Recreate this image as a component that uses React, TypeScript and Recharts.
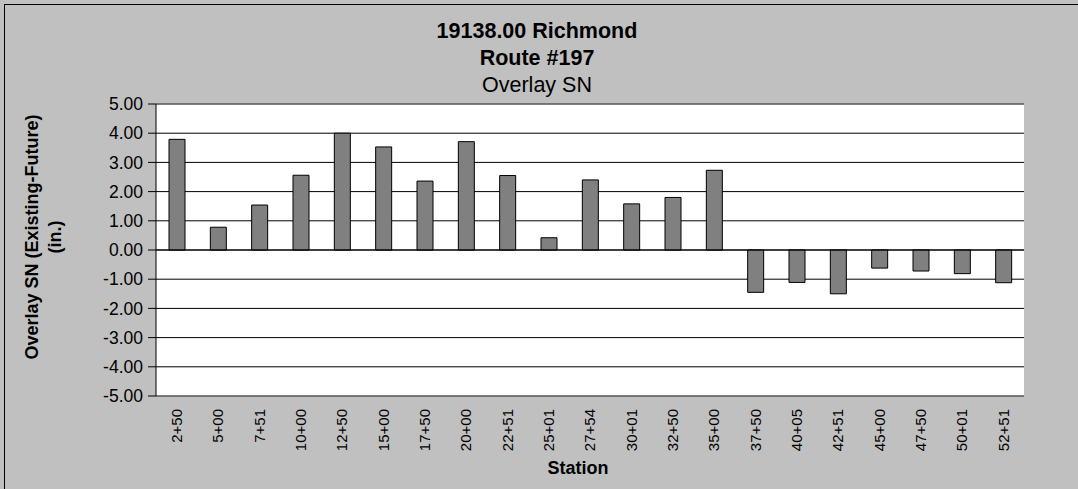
import { BarChart, Bar, XAxis, YAxis, CartesianGrid, ReferenceLine } from 'recharts';

const FONT = '"Liberation Sans", Arial, sans-serif';

// stations along the route
const stations = [
  '2+50', '5+00', '7+51', '10+00', '12+50', '15+00', '17+50', '20+00', '22+51', '25+01', '27+54',
  '30+01', '32+50', '35+00', '37+50', '40+05', '42+51', '45+00', '47+50', '50+01', '52+51',
];

// overlay structural number, existing minus future (in.)
const overlaySN = [
  3.79, 0.78, 1.54, 2.56, 4.0, 3.53, 2.36, 3.71, 2.55, 0.42, 2.4,
  1.58, 1.8, 2.73, -1.45, -1.11, -1.5, -0.62, -0.72, -0.81, -1.12,
];

const yTicks = [5, 4, 3, 2, 1, 0, -1, -2, -3, -4, -5];

const titleLines = ['19138.00 Richmond', 'Route #197', 'Overlay SN'];
const yTitleLines = ['Overlay SN (Existing-Future)', '(in.)'];
const xTitle = 'Station';

const data = stations.map((station, i) => ({ station, sn: overlaySN[i] }));

function StationTick(props: any) {
  const { x, y, payload } = props;
  return (
    <text
      x={x}
      y={y}
      transform={`rotate(-90, ${x}, ${y})`}
      textAnchor="end"
      dy="0.36em"
      fontSize={15}
      fontFamily={FONT}
      fill="#000"
    >
      {payload.value}
    </text>
  );
}

function SNTitle(props: any) {
  const { viewBox } = props;
  const cy = viewBox.y + viewBox.height / 2 - 13;
  const xs = [38, 61];
  return (
    <g>
      {yTitleLines.map((line, i) => (
        <text
          key={line}
          x={xs[i]}
          y={cy}
          transform={`rotate(-90, ${xs[i]}, ${cy})`}
          textAnchor="middle"
          fontSize={18}
          fontWeight="bold"
          fontFamily={FONT}
          fill="#000"
        >
          {line}
        </text>
      ))}
    </g>
  );
}

function StationTitle(props: any) {
  const { viewBox } = props;
  return (
    <text
      x={viewBox.x + viewBox.width / 2 - 12}
      y={viewBox.y + 78}
      textAnchor="middle"
      fontSize={18}
      fontWeight="bold"
      fontFamily={FONT}
      fill="#000"
    >
      {xTitle}
    </text>
  );
}

export default function App() {
  return (
    <div
      style={{
        position: 'absolute',
        left: 0,
        top: 0,
        width: 1078,
        height: 489,
        background: '#c0c0c0',
        overflow: 'hidden',
      }}
    >
      <div
        style={{
          position: 'absolute',
          left: 4,
          top: 4,
          width: 1200,
          height: 600,
          borderLeft: '1px solid #000',
          borderTop: '1px solid #000',
        }}
      />
      <div style={{ position: 'absolute', left: 0, top: 0 }}>
        <BarChart
          width={1078}
          height={489}
          data={data}
          margin={{ top: 104, right: 54, bottom: 0, left: 0 }}
          barSize={16}
        >
          <CartesianGrid vertical={false} stroke="#000" fill="#fff" fillOpacity={1} />
          <XAxis
            dataKey="station"
            height={93}
            interval={0}
            tickLine={false}
            tickSize={0}
            tickMargin={13}
            axisLine={{ stroke: '#808080' }}
            tick={<StationTick />}
            label={<StationTitle />}
          />
          <YAxis
            width={156}
            domain={[-5, 5]}
            ticks={yTicks}
            interval={0}
            tickSize={8}
            tickMargin={5}
            tickFormatter={(v: number) => v.toFixed(2)}
            axisLine={{ stroke: '#000' }}
            tickLine={{ stroke: '#000' }}
            tick={{ fontSize: 17.5, fill: '#000', fontFamily: FONT }}
            label={<SNTitle />}
          />
          <YAxis
            yAxisId="frame"
            orientation="right"
            width={0}
            domain={[-5, 5]}
            tick={false}
            tickLine={false}
            axisLine={{ stroke: '#808080' }}
          />
          <ReferenceLine y={5} stroke="#808080" />
          <ReferenceLine y={0} stroke="#000" />
          <Bar dataKey="sn" fill="#808080" stroke="#000" strokeWidth={1} isAnimationActive={false} />
          {titleLines.map((line, i) => (
            <text
              key={line}
              x={537}
              y={38 + i * 27}
              textAnchor="middle"
              fontSize={21.5}
              fontWeight={i < 2 ? 'bold' : 'normal'}
              fontFamily={FONT}
              fill="#000"
            >
              {line}
            </text>
          ))}
        </BarChart>
      </div>
    </div>
  );
}
